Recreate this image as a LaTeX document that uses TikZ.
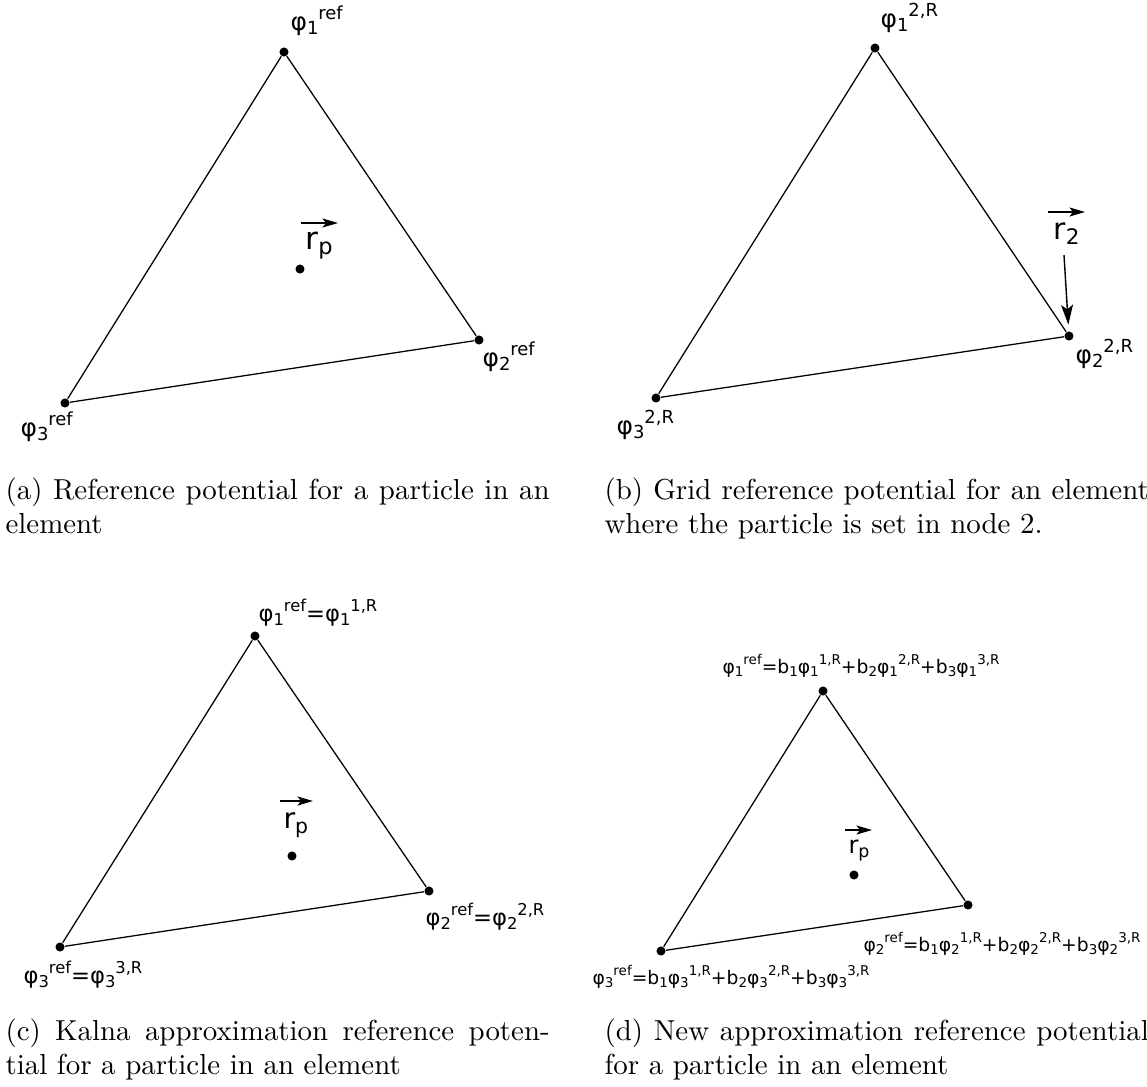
\documentclass[tikz,border=0pt]{standalone}
\usepackage{fontspec}
\usepackage{graphicx}
\newfontfamily\dv{DejaVu Sans}
\usetikzlibrary{arrows.meta}
\newcommand\lsub[1]{\raisebox{-0.18em}{\scalebox{0.72}{#1}}}
\newcommand\lsup[1]{\raisebox{0.44em}{\scalebox{0.72}{#1}}}
\newcommand\ph[2]{φ\lsub{#1}\lsup{#2}}
\begin{document}
\begin{tikzpicture}[x=0.3528pt,y=-0.3528pt,
  vtx/.style={circle,fill=black,inner sep=0pt,minimum size=3.2pt},
  edge/.style={line width=0.45pt},
  lab/.style={anchor=base west,inner sep=0pt,font=\dv\fontsize{8.8}{10}\selectfont},
  labc/.style={anchor=base west,inner sep=0pt,font=\dv\fontsize{8}{10}\selectfont},
  labd/.style={anchor=base west,inner sep=0pt,font=\dv\fontsize{6.6}{8}\selectfont},
  rlab/.style={anchor=base west,inner sep=0pt,font=\dv\fontsize{11}{12}\selectfont},
  vec/.style={line width=0.5pt,-{Stealth[length=5.5pt,width=3.2pt,inset=1.3pt]}},
  capbox/.style={anchor=north west,inner sep=0pt,text width=192pt,align=justify,font=\fontsize{10.2}{12.2}\selectfont}]
\useasboundingbox (0,0) rectangle (1147,1086);
% (a)
\node[vtx] (a1) at (284,52) {};
\node[vtx] (a2) at (479,340) {};
\node[vtx] (a3) at (65,403) {};
\node[vtx] (ap) at (300,269) {};
\draw[edge] (a1) -- (a2) -- (a3) -- (a1);
\node[lab] (la1) at (290,30) {\ph{1}{ref}};
\node[lab] (la2) at (482,366) {\ph{2}{ref}};
\node[lab] (la3) at (20,436) {\ph{3}{ref}};
\node[rlab] (ra) at (305,249) {r\lsub{p}};
\coordinate (ra0) at (301,223);
\coordinate (ra1) at (338,223);
\draw[vec] (ra0) -- (ra1);
\node[capbox] (capa) at (5,477) {(a) Reference potential for a particle in an\linebreak element};
% (b)
\node[vtx] (b1) at (875,48) {};
\node[vtx] (b2) at (1069,336) {};
\node[vtx] (b3) at (656,398) {};
\draw[edge] (b1) -- (b2) -- (b3) -- (b1);
\node[lab] (lb1) at (880,27) {\ph{1}{2,R}};
\node[lab] (lb2) at (1075,363) {\ph{2}{2,R}};
\node[lab] (lb3) at (616,434) {\ph{3}{2,R}};
\node[rlab,font=\dv\fontsize{10.5}{12}\selectfont] (rb) at (1053,239) {r\lsub{2}};
\coordinate (rb0) at (1048,212);
\coordinate (rb1) at (1085,212);
\draw[vec] (rb0) -- (rb1);
\coordinate (rbs) at (1064,255);
\draw[line width=0.5pt,-{Stealth[length=7pt,width=4.2pt,inset=1.6pt]},shorten >=2.2pt] (rbs) -- (b2);
\node[capbox] (capb) at (604,477) {(b) Grid reference potential for an element\linebreak where the particle is set in node 2.};
% (c)
\node[vtx] (c1) at (255,636) {};
\node[vtx] (c2) at (429,891) {};
\node[vtx] (c3) at (60,947) {};
\node[vtx] (cp) at (292,856) {};
\draw[edge] (c1) -- (c2) -- (c3) -- (c1);
\node[labc] (lc1) at (258,621) {\ph{1}{ref}=\ph{1}{1,R}};
\node[labc] (lc2) at (425,925) {\ph{2}{ref}=\ph{2}{2,R}};
\node[labc] (lc3) at (23,983) {\ph{3}{ref}=\ph{3}{3,R}};
\node[rlab,font=\dv\fontsize{10}{12}\selectfont] (rc) at (283,828) {r\lsub{p}};
\coordinate (rc0) at (280,801);
\coordinate (rc1) at (313,801);
\draw[vec] (rc0) -- (rc1);
\node[capbox] (capc) at (5,1018) {(c) Kalna approximation reference poten-\linebreak tial for a particle in an element};
% (d)
\node[vtx] (d1) at (823,691) {};
\node[vtx] (d2) at (968,905) {};
\node[vtx] (d3) at (661,951) {};
\node[vtx] (dp) at (854,875) {};
\draw[edge] (d1) -- (d2) -- (d3) -- (d1);
\node[labd] (ld1) at (722,673) {\ph{1}{ref}=b\lsub{1}\ph{1}{1,R}+b\lsub{2}\ph{1}{2,R}+b\lsub{3}\ph{1}{3,R}};
\node[labd] (ld2) at (863,951) {\ph{2}{ref}=b\lsub{1}\ph{2}{1,R}+b\lsub{2}\ph{2}{2,R}+b\lsub{3}\ph{2}{3,R}};
\node[labd] (ld3) at (592,984) {\ph{3}{ref}=b\lsub{1}\ph{3}{1,R}+b\lsub{2}\ph{3}{2,R}+b\lsub{3}\ph{3}{3,R}};
\node[rlab,font=\dv\fontsize{8.5}{10}\selectfont] (rd) at (848,853) {r\lsub{p}};
\coordinate (rd0) at (845,830);
\coordinate (rd1) at (872,830);
\draw[vec] (rd0) -- (rd1);
\node[capbox] (capd) at (604,1018) {(d) New approximation reference potential\linebreak for a particle in an element};
\end{tikzpicture}
\end{document}
